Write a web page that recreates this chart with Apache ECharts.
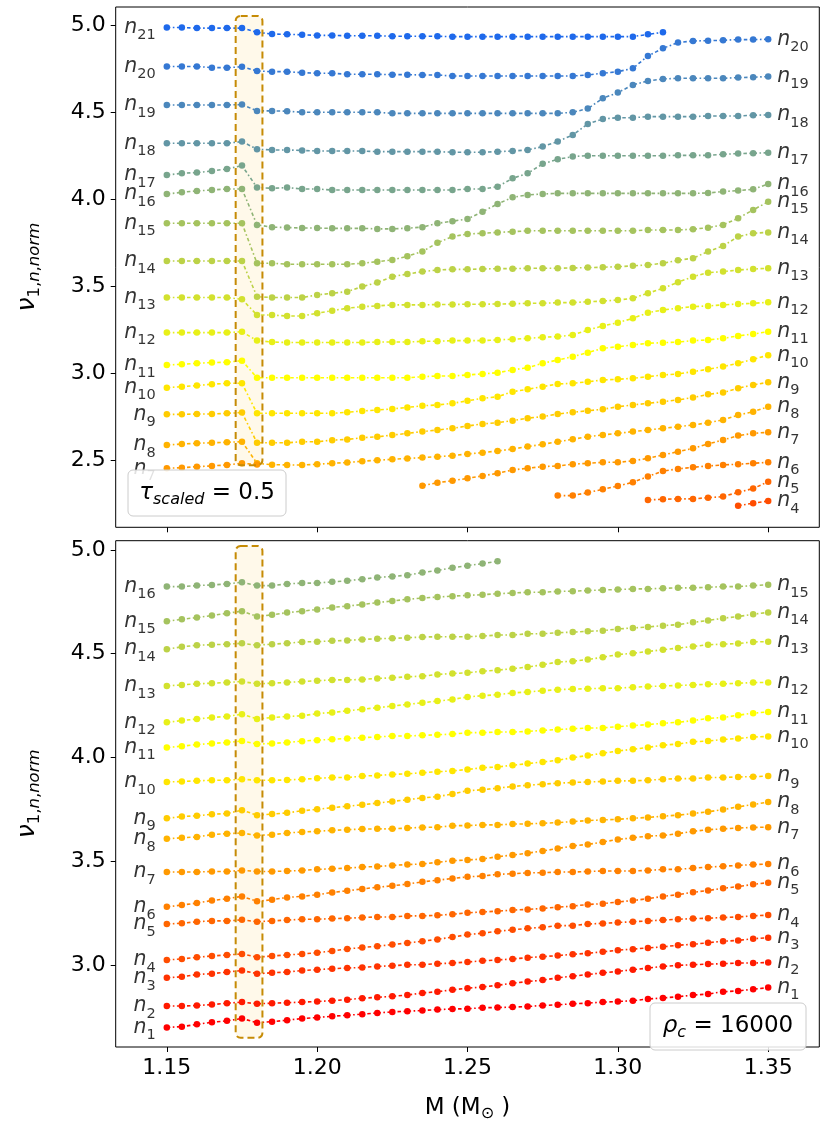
<!DOCTYPE html>
<html><head><meta charset="utf-8">
<script src="https://cdn.jsdelivr.net/npm/echarts@6/dist/echarts.min.js"></script>
<style>html,body{margin:0;padding:0;background:#fff}#c{width:823px;height:1123px}</style>
</head><body><div id="c"></div>
<script>
const _ = null;
// Stellar mass grid (M_sun)
const masses = [1.150,1.155,1.160,1.165,1.170,1.175,1.180,1.185,1.190,1.195,1.200,1.205,1.210,1.215,1.220,1.225,1.230,1.235,1.240,1.245,1.250,1.255,1.260,1.265,1.270,1.275,1.280,1.285,1.290,1.295,1.300,1.305,1.310,1.315,1.320,1.325,1.330,1.335,1.340,1.345,1.350];
const xTicks = [1.15,1.20,1.25,1.30,1.35];
const yTicksTop = [2.5,3.0,3.5,4.0,4.5,5.0];
const yTicksBottom = [3.0,3.5,4.0,4.5,5.0];
// highlighted mass window [x0, yTop, x1, yBottom]
const boxTop = [1.1729, 5.052, 1.1818, 2.474];
const boxBottom = [1.1729, 5.019, 1.1818, 2.651];

// ---- top panel (tau_scaled = 0.5) ----
const T21 = [4.985,4.985,4.982,4.982,4.982,4.982,4.958,4.948,4.946,4.944,4.940,4.940,4.938,4.938,4.938,4.935,4.935,4.935,4.935,4.933,4.933,4.933,4.933,4.933,4.933,4.933,4.933,4.933,4.933,4.933,4.933,4.933,4.946,4.958,_,_,_,_,_,_,_];
const T20 = [4.762,4.762,4.762,4.755,4.755,4.760,4.736,4.732,4.732,4.726,4.723,4.723,4.717,4.717,4.717,4.715,4.715,4.713,4.713,4.707,4.707,4.707,4.707,4.707,4.707,4.707,4.707,4.707,4.713,4.723,4.732,4.751,4.822,4.866,4.899,4.908,4.910,4.912,4.916,4.916,4.918];
const T19 = [4.541,4.541,4.541,4.541,4.541,4.543,4.507,4.507,4.505,4.499,4.499,4.499,4.499,4.499,4.499,4.493,4.493,4.493,4.493,4.493,4.493,4.493,4.493,4.493,4.493,4.493,4.493,4.499,4.520,4.579,4.612,4.656,4.679,4.690,4.694,4.694,4.694,4.694,4.698,4.700,4.704];
const T18 = [4.321,4.321,4.321,4.321,4.321,4.331,4.287,4.283,4.283,4.280,4.277,4.277,4.277,4.277,4.273,4.273,4.273,4.273,4.273,4.270,4.270,4.270,4.273,4.277,4.283,4.302,4.331,4.369,4.432,4.461,4.468,4.468,4.474,4.474,4.474,4.474,4.478,4.478,4.478,4.482,4.484];
const T17 = [4.139,4.149,4.153,4.162,4.174,4.193,4.067,4.063,4.067,4.059,4.059,4.053,4.053,4.053,4.053,4.053,4.053,4.053,4.053,4.053,4.059,4.059,4.072,4.120,4.149,4.203,4.229,4.245,4.250,4.250,4.250,4.250,4.250,4.250,4.252,4.252,4.252,4.258,4.262,4.264,4.267];
const T16 = [4.030,4.040,4.048,4.053,4.059,4.059,3.853,3.840,3.838,3.835,3.835,3.833,3.833,3.833,3.830,3.830,3.834,3.840,3.862,3.874,3.887,3.929,3.973,4.011,4.025,4.030,4.034,4.034,4.034,4.034,4.034,4.034,4.034,4.034,4.034,4.034,4.036,4.044,4.050,4.057,4.088];
const T15 = [3.862,3.862,3.862,3.862,3.862,3.862,3.633,3.633,3.627,3.627,3.627,3.627,3.627,3.633,3.642,3.652,3.673,3.700,3.750,3.786,3.801,3.805,3.810,3.814,3.819,3.819,3.819,3.819,3.819,3.819,3.819,3.819,3.824,3.824,3.824,3.828,3.837,3.853,3.891,3.939,3.986];
const T14 = [3.646,3.646,3.646,3.646,3.646,3.646,3.441,3.436,3.436,3.436,3.451,3.461,3.470,3.499,3.522,3.556,3.571,3.585,3.594,3.598,3.598,3.600,3.602,3.602,3.604,3.604,3.604,3.606,3.608,3.610,3.613,3.618,3.623,3.633,3.650,3.662,3.700,3.732,3.786,3.805,3.810];
const T13 = [3.436,3.436,3.436,3.436,3.436,3.426,3.336,3.336,3.330,3.330,3.346,3.361,3.375,3.384,3.388,3.394,3.394,3.394,3.396,3.396,3.398,3.398,3.399,3.400,3.403,3.403,3.407,3.407,3.412,3.416,3.422,3.432,3.461,3.489,3.524,3.556,3.579,3.585,3.594,3.600,3.604];
const T12 = [3.235,3.235,3.235,3.235,3.235,3.240,3.189,3.181,3.178,3.178,3.178,3.178,3.178,3.178,3.181,3.181,3.181,3.185,3.185,3.189,3.189,3.189,3.193,3.197,3.202,3.208,3.212,3.221,3.250,3.273,3.292,3.317,3.349,3.365,3.375,3.384,3.388,3.394,3.399,3.403,3.409];
const T11 = [3.049,3.053,3.059,3.063,3.065,3.074,2.976,2.976,2.976,2.976,2.976,2.976,2.976,2.976,2.976,2.976,2.976,2.982,2.986,2.986,2.992,2.998,3.005,3.021,3.034,3.059,3.078,3.097,3.120,3.145,3.154,3.164,3.174,3.177,3.181,3.189,3.193,3.202,3.216,3.227,3.240];
const T10 = [2.919,2.925,2.931,2.939,2.944,2.944,2.772,2.772,2.772,2.772,2.772,2.772,2.778,2.785,2.791,2.797,2.806,2.815,2.820,2.829,2.844,2.858,2.867,2.896,2.910,2.925,2.940,2.944,2.953,2.963,2.967,2.973,2.982,2.992,2.998,3.011,3.025,3.040,3.059,3.082,3.105];
const T9  = [2.766,2.766,2.768,2.768,2.772,2.776,2.603,2.603,2.603,2.609,2.609,2.618,2.622,2.632,2.637,2.647,2.657,2.667,2.676,2.686,2.699,2.711,2.718,2.730,2.744,2.753,2.768,2.778,2.787,2.795,2.810,2.820,2.829,2.839,2.849,2.862,2.881,2.891,2.916,2.935,2.950];
const T8  = [2.590,2.596,2.600,2.603,2.606,2.609,2.485,2.477,2.476,2.475,2.480,2.485,2.490,2.497,2.503,2.508,2.513,2.518,2.523,2.529,2.539,2.546,2.556,2.567,2.581,2.594,2.609,2.623,2.638,2.648,2.657,2.667,2.676,2.686,2.695,2.705,2.718,2.734,2.762,2.781,2.810];
const T7a = [2.457,2.460,2.466,2.470,2.476,2.485,2.479,_,_,_,_,_,_,_,_,_,_,_,_,_,_,_,_,_,_,_,_,_,_,_,_,_,_,_,_,_,_,_,_,_,_];
const T7b = [_,_,_,_,_,_,_,_,_,_,_,_,_,_,_,_,_,2.357,2.374,2.385,2.399,2.413,2.428,2.447,2.457,2.466,2.470,2.480,2.485,2.491,2.491,2.499,2.514,2.533,2.552,2.571,2.596,2.619,2.644,2.657,2.663];
const T6  = [_,_,_,_,_,_,_,_,_,_,_,_,_,_,_,_,_,_,_,_,_,_,_,_,_,_,2.300,2.300,2.317,2.336,2.355,2.376,2.409,2.441,2.453,2.462,2.470,2.476,2.480,2.485,2.491];
const T5  = [_,_,_,_,_,_,_,_,_,_,_,_,_,_,_,_,_,_,_,_,_,_,_,_,_,_,_,_,_,_,_,_,2.275,2.279,2.281,2.281,2.288,2.294,2.319,2.340,2.380];
const T4  = [_,_,_,_,_,_,_,_,_,_,_,_,_,_,_,_,_,_,_,_,_,_,_,_,_,_,_,_,_,_,_,_,_,_,_,_,_,_,2.242,2.256,2.269];

// ---- bottom panel (rho_c = 16000) ----
const B1  = [2.701,2.705,2.716,2.726,2.733,2.744,2.724,2.729,2.736,2.744,2.749,2.755,2.760,2.765,2.771,2.776,2.779,2.783,2.787,2.790,2.791,2.796,2.797,2.799,2.802,2.807,2.810,2.815,2.818,2.823,2.826,2.830,2.838,2.843,2.849,2.857,2.862,2.873,2.877,2.885,2.893];
const B2  = [2.804,2.804,2.807,2.811,2.818,2.823,2.815,2.818,2.820,2.823,2.826,2.830,2.835,2.842,2.846,2.851,2.857,2.867,2.873,2.882,2.890,2.896,2.904,2.914,2.922,2.929,2.940,2.948,2.956,2.964,2.971,2.979,2.987,2.995,3.000,3.003,3.006,3.008,3.011,3.011,3.014];
const B3  = [2.940,2.945,2.956,2.960,2.968,2.975,2.960,2.964,2.968,2.975,2.979,2.984,2.987,2.990,2.995,2.998,3.003,3.003,3.008,3.011,3.016,3.022,3.026,3.031,3.037,3.042,3.047,3.053,3.058,3.065,3.073,3.078,3.084,3.089,3.097,3.101,3.109,3.116,3.120,3.128,3.133];
const B4  = [3.026,3.031,3.039,3.045,3.050,3.055,3.039,3.045,3.050,3.055,3.061,3.069,3.079,3.086,3.092,3.100,3.108,3.116,3.125,3.136,3.148,3.155,3.164,3.171,3.178,3.183,3.191,3.191,3.199,3.202,3.206,3.210,3.214,3.218,3.222,3.225,3.227,3.230,3.233,3.238,3.242];
const B5  = [3.199,3.203,3.210,3.214,3.214,3.219,3.210,3.214,3.218,3.222,3.222,3.225,3.227,3.230,3.233,3.233,3.238,3.238,3.241,3.246,3.253,3.257,3.261,3.266,3.269,3.274,3.280,3.285,3.293,3.297,3.305,3.312,3.321,3.332,3.340,3.352,3.360,3.371,3.379,3.390,3.398];
const B6  = [3.282,3.290,3.300,3.312,3.321,3.332,3.308,3.316,3.327,3.332,3.340,3.351,3.359,3.368,3.376,3.383,3.391,3.402,3.410,3.418,3.426,3.430,3.438,3.441,3.445,3.446,3.449,3.449,3.452,3.454,3.454,3.454,3.457,3.462,3.462,3.468,3.473,3.477,3.481,3.485,3.488];
const B7  = [3.449,3.449,3.449,3.452,3.452,3.457,3.452,3.452,3.454,3.457,3.462,3.465,3.468,3.473,3.476,3.481,3.485,3.488,3.496,3.504,3.507,3.512,3.523,3.531,3.540,3.551,3.562,3.575,3.582,3.594,3.606,3.614,3.622,3.625,3.634,3.645,3.653,3.657,3.661,3.664,3.665];
const B8  = [3.609,3.614,3.618,3.629,3.634,3.637,3.625,3.629,3.637,3.642,3.645,3.650,3.653,3.656,3.657,3.657,3.661,3.664,3.665,3.672,3.673,3.676,3.676,3.680,3.681,3.684,3.687,3.692,3.697,3.700,3.703,3.708,3.712,3.718,3.723,3.731,3.739,3.750,3.763,3.774,3.786];
const B9  = [3.708,3.716,3.720,3.727,3.731,3.747,3.723,3.728,3.734,3.744,3.751,3.759,3.766,3.773,3.781,3.789,3.797,3.806,3.812,3.825,3.841,3.845,3.853,3.861,3.867,3.872,3.877,3.880,3.883,3.885,3.888,3.888,3.891,3.896,3.899,3.899,3.904,3.904,3.907,3.908,3.911];
const B10 = [3.883,3.885,3.888,3.891,3.891,3.896,3.891,3.891,3.892,3.896,3.900,3.904,3.904,3.911,3.914,3.919,3.922,3.927,3.932,3.936,3.943,3.951,3.955,3.963,3.971,3.979,3.987,4.000,4.010,4.021,4.032,4.040,4.049,4.060,4.065,4.076,4.080,4.087,4.092,4.099,4.102];
const B11 = [4.048,4.055,4.063,4.068,4.073,4.080,4.065,4.068,4.073,4.079,4.084,4.088,4.092,4.096,4.099,4.104,4.104,4.107,4.110,4.113,4.120,4.120,4.123,4.123,4.126,4.131,4.135,4.139,4.142,4.143,4.149,4.154,4.159,4.165,4.170,4.178,4.189,4.193,4.204,4.214,4.220];
const B12 = [4.170,4.178,4.186,4.193,4.198,4.209,4.186,4.193,4.198,4.201,4.212,4.217,4.225,4.233,4.240,4.248,4.256,4.264,4.272,4.280,4.292,4.298,4.303,4.311,4.316,4.322,4.327,4.330,4.331,4.334,4.334,4.339,4.342,4.345,4.347,4.350,4.353,4.355,4.358,4.361,4.362];
const B13 = [4.345,4.350,4.355,4.358,4.362,4.366,4.355,4.358,4.362,4.366,4.370,4.374,4.374,4.376,4.381,4.384,4.389,4.392,4.400,4.405,4.408,4.416,4.421,4.428,4.436,4.447,4.460,4.464,4.472,4.483,4.496,4.502,4.511,4.519,4.527,4.535,4.543,4.546,4.549,4.557,4.558];
const B14 = [4.522,4.533,4.541,4.543,4.546,4.550,4.541,4.546,4.550,4.557,4.558,4.562,4.564,4.569,4.572,4.574,4.577,4.580,4.582,4.582,4.582,4.585,4.590,4.590,4.596,4.596,4.601,4.604,4.608,4.611,4.619,4.624,4.629,4.635,4.640,4.651,4.660,4.671,4.679,4.690,4.699];
const B15 = [4.656,4.666,4.674,4.684,4.695,4.705,4.679,4.687,4.698,4.705,4.713,4.723,4.729,4.737,4.746,4.754,4.762,4.768,4.773,4.777,4.781,4.784,4.789,4.792,4.796,4.796,4.800,4.801,4.804,4.807,4.809,4.812,4.812,4.815,4.817,4.817,4.820,4.823,4.823,4.828,4.832];
const B16 = [4.823,4.823,4.828,4.831,4.836,4.844,4.828,4.828,4.836,4.840,4.840,4.846,4.851,4.859,4.867,4.872,4.878,4.891,4.901,4.914,4.924,4.934,4.945,_,_,_,_,_,_,_,_,_,_,_,_,_,_,_,_,_,_];

const topCurves = [
  {n:21,v:T21},{n:20,v:T20},{n:19,v:T19},{n:18,v:T18},{n:17,v:T17},{n:16,v:T16},{n:15,v:T15},
  {n:14,v:T14},{n:13,v:T13},{n:12,v:T12},{n:11,v:T11},{n:10,v:T10},{n:9,v:T9},{n:8,v:T8},
  {n:7,v:T7a},{n:7,v:T7b},{n:6,v:T6},{n:5,v:T5},{n:4,v:T4}];
const bottomCurves = [B1,B2,B3,B4,B5,B6,B7,B8,B9,B10,B11,B12,B13,B14,B15,B16].map((v,i)=>({n:i+1,v}));

const FONT = 'DejaVu Sans';
function col(n){
  const t=(n-1)/20; let r,g,b;
  if(t<=0.5){ r=255; g=Math.round(255*t/0.5); b=0; }
  else { const u=(t-0.5)/0.5; r=Math.round(255+(30-255)*u); g=Math.round(255+(105-255)*u); b=Math.round(235*u); }
  return 'rgb('+r+','+g+','+b+')';
}
function lineSeries(c, gi){
  const data=[]; c.v.forEach((y,i)=>{ if(y!==null) data.push([masses[i], y]); });
  return {type:'line', xAxisIndex:gi, yAxisIndex:gi, data, symbol:'circle', symbolSize:6.5, showSymbol:true,
    lineStyle:{color:col(c.n), width:1.6, type:[3.5,2.5,1.6,2.5]}, itemStyle:{color:col(c.n)},
    silent:true, animation:false, z:3, emphasis:{disabled:true}};
}
const labRich = {
  n:{fontFamily:FONT, fontStyle:'italic', fontSize:20.5, color:'#000'},
  s:{fontFamily:FONT, fontSize:14.5, color:'#000', padding:[16,0,0,0]}
};
function labelSeries(curves, gi, side){
  const idx = side==='left'?0:masses.length-1;
  const data = curves.filter(c=>c.v[idx]!==null).map(c=>({value:[masses[idx], c.v[idx]], name:String(c.n)}));
  return {type:'scatter', xAxisIndex:gi, yAxisIndex:gi, data, symbolSize:0, silent:true, animation:false, z:5,
    label:{show:true, position:side, distance: side==='left'?11:9, formatter:p=>'{n|n}{s|'+p.name+'}', rich:labRich}};
}
function boxSeries(box, gi, part){
  return {type:'custom', xAxisIndex:gi, yAxisIndex:gi, data:[box], silent:true, animation:false,
    z: part==='fill'?1:6, clip:false,
    renderItem:(params, api)=>{
      const p0=api.coord([api.value(0), api.value(1)]); const p1=api.coord([api.value(2), api.value(3)]);
      const style = part==='fill' ? {fill:'rgba(255,244,214,0.5)', stroke:null}
                                  : {fill:null, stroke:'#c68b05', lineWidth:2, lineDash:[7,4]};
      return {type:'rect', shape:{x:p0[0], y:p0[1], width:p1[0]-p0[0], height:p1[1]-p0[1], r:5}, style};
    }};
}
const axisTxt = {fontFamily:FONT, fontSize:22, color:'#000'};
const yName = '{v|ν}{s|1,}{si|n}{s|,}{si|norm}';
const yNameStyle = {fontFamily:FONT, color:'#000', rich:{
  v:{fontFamily:FONT, fontStyle:'italic', fontSize:25, color:'#000'},
  s:{fontFamily:FONT, fontSize:16.5, color:'#000', padding:[16,0,0,0]},
  si:{fontFamily:FONT, fontStyle:'italic', fontSize:16.5, color:'#000', padding:[16,0,0,0]}}};
function xAx(gi, showLab){
  return {gridIndex:gi, type:'value', min:1.133, max:1.367, axisLine:{show:false}, splitLine:{show:false},
    axisTick:{show:true, customValues:xTicks, length:5, lineStyle:{color:'#000', width:1}},
    axisLabel:{show:showLab, customValues:xTicks, formatter:v=>v.toFixed(2), margin:10, ...axisTxt},
    name: showLab?'M (M{s|⊙} )':'', nameLocation:'middle', nameGap:47,
    nameTextStyle:{fontFamily:FONT, fontSize:23, color:'#000', rich:{s:{fontFamily:FONT, fontSize:16, color:'#000', padding:[12,0,0,0]}}}};
}
function yAx(gi, mn, mx, ticks){
  return {gridIndex:gi, type:'value', min:mn, max:mx, axisLine:{show:false}, splitLine:{show:false},
    axisTick:{show:true, customValues:ticks, length:5, lineStyle:{color:'#000', width:1}},
    axisLabel:{show:true, customValues:ticks, formatter:v=>v.toFixed(1), margin:10, ...axisTxt},
    name:yName, nameLocation:'middle', nameRotate:90, nameGap:72, nameTextStyle:yNameStyle};
}
const series = [];
series.push(boxSeries(boxTop,0,'fill'), boxSeries(boxBottom,1,'fill'));
topCurves.forEach(c=>series.push(lineSeries(c,0)));
bottomCurves.forEach(c=>series.push(lineSeries(c,1)));
series.push(labelSeries(topCurves,0,'left'), labelSeries(topCurves,0,'right'));
series.push(labelSeries(bottomCurves,1,'left'), labelSeries(bottomCurves,1,'right'));
series.push(boxSeries(boxTop,0,'edge'), boxSeries(boxBottom,1,'edge'));

const legRich = {
  g:{fontFamily:FONT, fontStyle:'italic', fontSize:23, color:'#000'},
  s:{fontFamily:FONT, fontStyle:'italic', fontSize:16, color:'#000', padding:[14,0,0,0]},
  r:{fontFamily:FONT, fontSize:23, color:'#000'}
};
const option = {
  animation:false, backgroundColor:'#fff', textStyle:{fontFamily:FONT},
  grid:[
    {left:115.7, top:7, width:703.6, height:520.3, show:true, borderColor:'#000', borderWidth:1, backgroundColor:'#fff'},
    {left:115.7, top:540.7, width:703.6, height:518.6, show:true, borderColor:'#000', borderWidth:1, backgroundColor:'#fff'}
  ],
  xAxis:[xAx(0,false), xAx(1,true)],
  yAxis:[yAx(0,2.118,5.103,yTicksTop), yAx(1,2.607,5.044,yTicksBottom)],
  series,
  graphic:[
    {type:'rect', shape:{x:128, y:470, width:158, height:46, r:5}, style:{fill:'rgba(255,255,255,0.85)', stroke:'#cccccc', lineWidth:1}, z:100},
    {type:'text', x:207, y:493, z:101, style:{text:'{g|τ}{s|scaled}{r| = 0.5}', align:'center', verticalAlign:'middle', rich:legRich}},
    {type:'rect', shape:{x:650, y:1003, width:156, height:47, r:5}, style:{fill:'rgba(255,255,255,0.85)', stroke:'#cccccc', lineWidth:1}, z:100},
    {type:'text', x:728, y:1026, z:101, style:{text:'{g|ρ}{s|c}{r| = 16000}', align:'center', verticalAlign:'middle', rich:legRich}}
  ]
};
const chart = echarts.init(document.getElementById('c'));
chart.setOption(option);
</script></body></html>
